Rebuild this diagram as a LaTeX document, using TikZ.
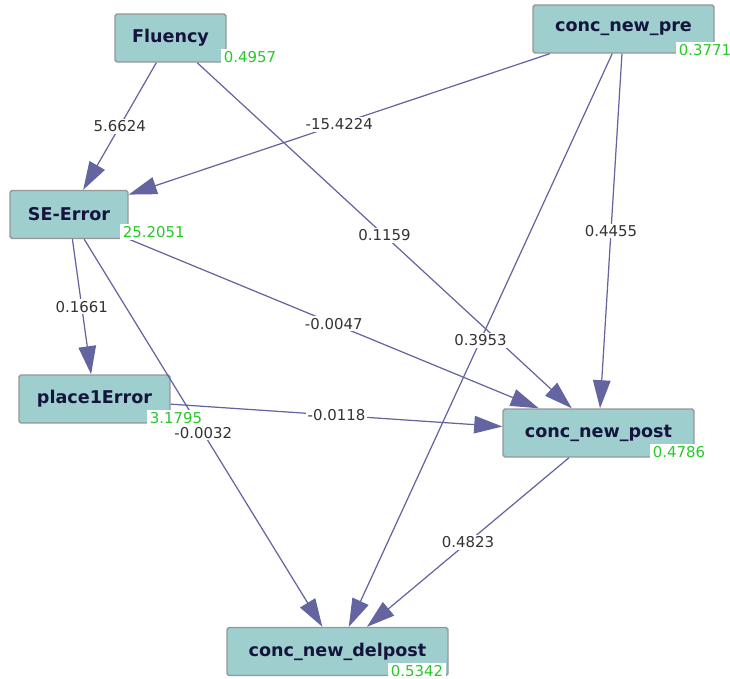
\documentclass[tikz,border=0pt]{standalone}
\usepackage{fontspec}
\setmainfont{DejaVu Sans}
\usetikzlibrary{arrows.meta}
\definecolor{boxfill}{RGB}{158,206,206}
\definecolor{boxline}{RGB}{150,150,150}
\definecolor{edgecol}{RGB}{100,100,160}
\definecolor{valgreen}{RGB}{40,200,40}
\definecolor{boxtext}{RGB}{20,20,60}
\newcommand*{\boxh}{0.96cm}

\begin{document}
\begin{tikzpicture}[x=0.02cm,y=-0.02cm]
\tikzset{var/.style={draw=boxline, line width=0.8pt, fill=boxfill, rounded corners=1pt, minimum height=\boxh, inner sep=0pt, text=boxtext, font=\bfseries\fontsize{10}{12}\selectfont},
  val/.style={fill=white, text=valgreen, anchor=west, inner sep=1.5pt, font=\fontsize{8.5}{10}\selectfont},
  link/.style={draw=edgecol, line width=0.7pt, -{Triangle[length=16pt,width=10pt]}},
  coef/.style={fill=white, text=black!80, inner sep=1pt, font=\fontsize{8.5}{10}\selectfont}}

    \useasboundingbox (0,0) rectangle (730,679);

    \node[var, minimum width=2.22cm] (flu) at (170.5,38) {Fluency};
    \node[var, minimum width=3.62cm] (pre) at (623.5,29) {conc\_new\_pre};
    \node[var, minimum width=2.36cm] (se) at (69,214.5) {SE-Error};
    \node[var, minimum width=3.02cm] (pl) at (94.5,399) {place1Error};
    \node[var, minimum width=3.82cm] (post) at (598.5,433) {conc\_new\_post};
    \node[var, minimum width=4.42cm] (del) at (337.5,651.5) {conc\_new\_delpost};

    \draw[link] (flu) -- (se) node[coef, midway] {5.6624};
    \draw[link] (flu) -- (post) node[coef, midway] {0.1159};
    \draw[link] (pre) -- (se) node[coef, midway] {-15.4224};
    \draw[link] (pre) -- (post) node[coef, midway] {0.4455};
    \draw[link] (pre) -- (del) node[coef, midway] {0.3953};
    \draw[link] (se) -- (pl) node[coef, midway] {0.1661};
    \draw[link] (se) -- (post) node[coef, midway] {-0.0047};
    \draw[link] (se) -- (del) node[coef, midway] {-0.0032};
    \draw[link] (pl) -- (post) node[coef, midway] {-0.0118};
    \draw[link] (post) -- (del) node[coef, midway] {0.4823};

    \node[val] (fluv) at (221,57) {0.4957};
    \node[val] (prev) at (676,50) {0.3771};
    \node[val] (sev) at (120,232) {25.2051};
    \node[val] (plv) at (147,418) {3.1795};
    \node[val] (postv) at (650,452) {0.4786};
    \node[val] (delv) at (388,671) {0.5342};
\end{tikzpicture}
\end{document}
